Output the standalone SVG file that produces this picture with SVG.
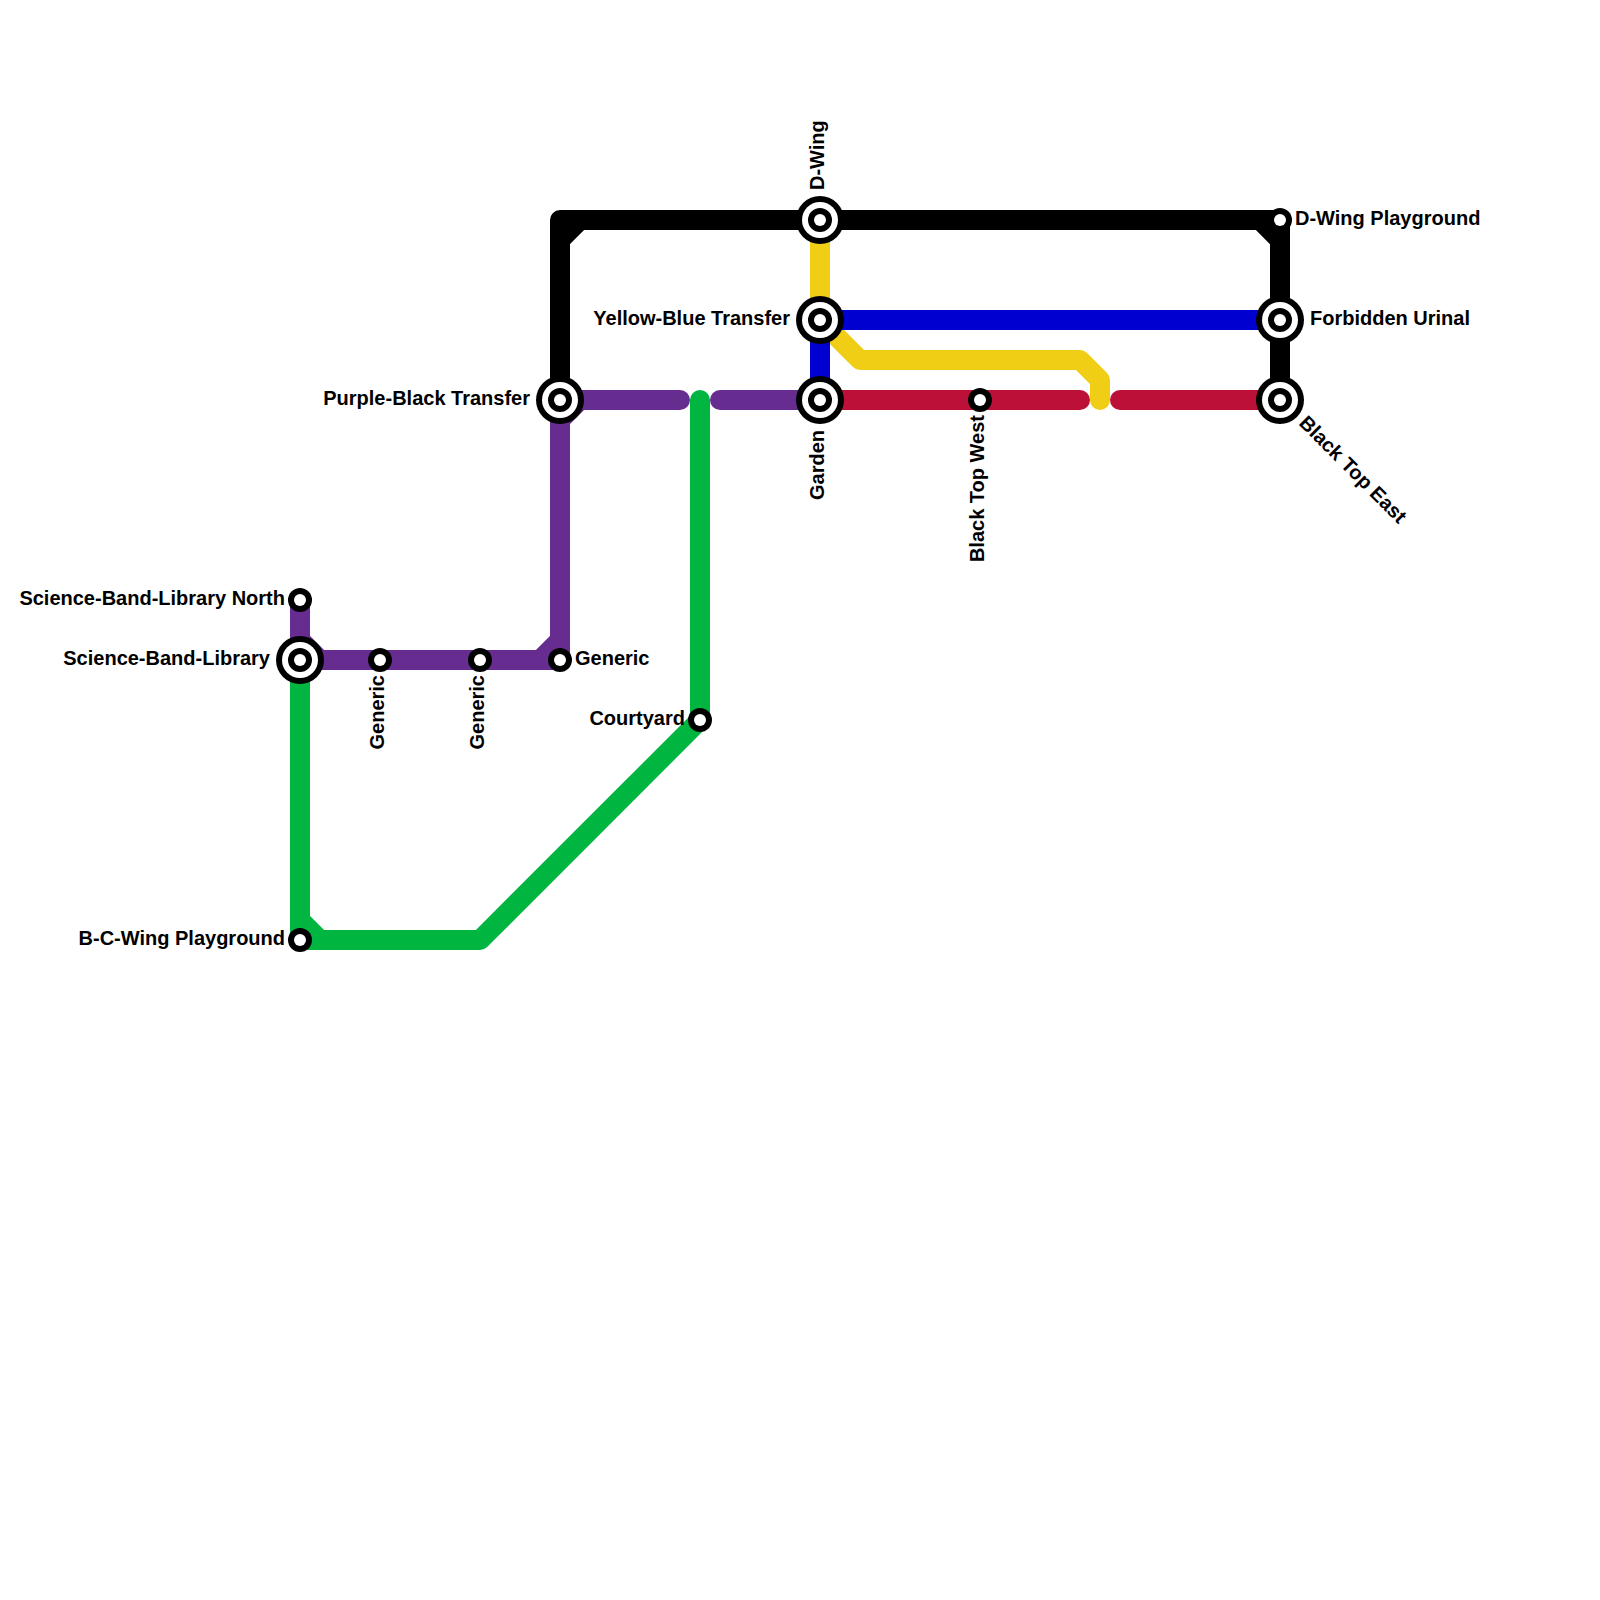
<svg xmlns="http://www.w3.org/2000/svg" width="1600" height="1600" viewBox="0 0 1600 1600">
<style>
.l{fill:none;stroke-width:20;stroke-linecap:round;stroke-linejoin:round}
.k{stroke:#000}.b{stroke:#0000d0}.y{stroke:#f0ce15}.r{stroke:#bd1038}.p{stroke:#662c90}.g{stroke:#00b540}
.o{fill:#000}.w{fill:#fff}
text{font-family:"Liberation Sans",Arial,sans-serif;font-weight:700;font-size:20px;fill:#000}
.e{text-anchor:end}
</style>
<defs>
<g id="st"><circle r="12" class="o"/><circle r="6" class="w"/></g>
<g id="ic"><circle r="24" class="o"/><circle r="18" class="w"/><circle r="12" class="o"/><circle r="6" class="w"/></g>
</defs>
<rect width="1600" height="1600" fill="#fff"/>
<g id="connectors">
<path class="l y" d="M820 220V320L860 360H1080L1100 380V400"/>
<path class="l b" d="M820 400V320H1280"/>
<path class="l r" d="M820 400H1080M1120 400H1280"/>
<path class="l p" d="M300 600V660H560V400H680M720 400H820M300 640L320 660M560 640L540 660M560 420L580 400"/>
<path class="l g" d="M700 400V720L480 940H300V660M300 920L320 940"/>
<path class="l k" d="M560 400V220H1280V400M560 240L580 220M1260 220L1280 240"/>
</g>
<g id="n-dwing"><use href="#ic" x="820" y="220"/><text transform="translate(824 190) rotate(-90)">D-Wing</text></g>
<g id="n-dwing-playground"><use href="#st" x="1280" y="220"/><text x="1295" y="225">D-Wing Playground</text></g>
<g id="n-yellow-blue"><use href="#ic" x="820" y="320"/><text class="e" x="790" y="325">Yellow-Blue Transfer</text></g>
<g id="n-forbidden"><use href="#ic" x="1280" y="320"/><text x="1310" y="325">Forbidden Urinal</text></g>
<g id="n-purple-black"><use href="#ic" x="560" y="400"/><text class="e" x="530" y="405">Purple-Black Transfer</text></g>
<g id="n-garden"><use href="#ic" x="820" y="400"/><text class="e" transform="translate(824 430) rotate(-90)">Garden</text></g>
<g id="n-blacktop-west"><use href="#st" x="980" y="400"/><text class="e" transform="translate(984 415) rotate(-90)">Black Top West</text></g>
<g id="n-blacktop-east"><use href="#ic" x="1280" y="400"/><text transform="translate(1298 424) rotate(45)">Black Top East</text></g>
<g id="n-sbl-north"><use href="#st" x="300" y="600"/><text class="e" x="285" y="605">Science-Band-Library North</text></g>
<g id="n-sbl"><use href="#ic" x="300" y="660"/><text class="e" x="270" y="665">Science-Band-Library</text></g>
<g id="n-generic-1"><use href="#st" x="380" y="660"/><text class="e" transform="translate(384 675) rotate(-90)">Generic</text></g>
<g id="n-generic-2"><use href="#st" x="480" y="660"/><text class="e" transform="translate(484 675) rotate(-90)">Generic</text></g>
<g id="n-generic-3"><use href="#st" x="560" y="660"/><text x="575" y="665">Generic</text></g>
<g id="n-courtyard"><use href="#st" x="700" y="720"/><text class="e" x="685" y="725">Courtyard</text></g>
<g id="n-bc"><use href="#st" x="300" y="940"/><text class="e" x="285" y="945">B-C-Wing Playground</text></g>
</svg>
